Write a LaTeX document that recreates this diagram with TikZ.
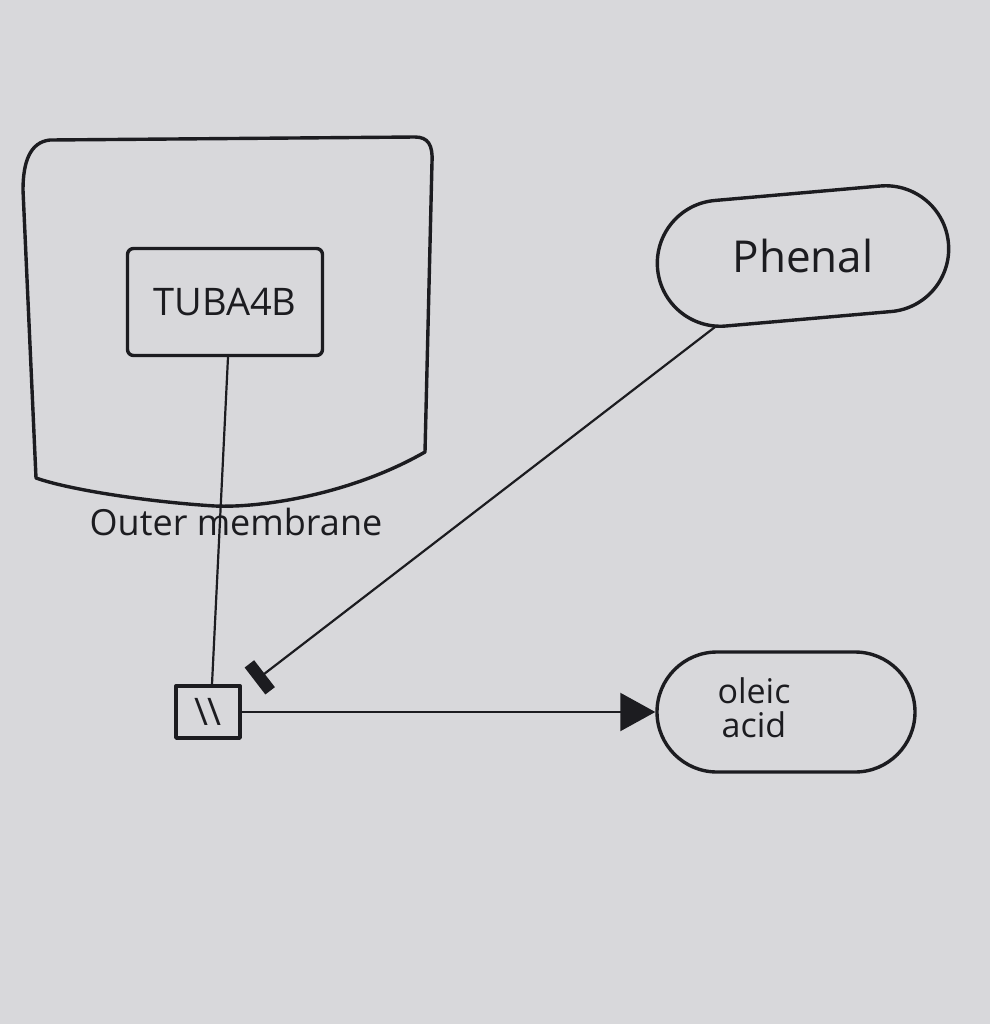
\documentclass[tikz,border=0pt]{standalone}
\usepackage{fontspec}
\setmainfont{Open Sans}
\usetikzlibrary{arrows.meta,shapes.misc}
\definecolor{paper}{RGB}{216,216,219}
\definecolor{ink}{RGB}{28,28,32}
\tikzset{
  pen/.style={draw=ink,line width=1.7pt,line join=round,line cap=round},
  conn/.style={draw=ink,line width=1.1pt},
  lbl/.style={text=ink,font=\fontsize{19}{22}\selectfont},
  blob/.style={pen,rounded rectangle,inner sep=0pt},
}
\begin{document}
\begin{tikzpicture}[x=0.5pt,y=-0.5pt]
\useasboundingbox (0,0) rectangle (990,1024);
\fill[paper] (0,0) rectangle (990,1024);
% outer membrane compartment
\draw[pen] (50,140) -- (415,137) .. controls (428,137) and (433,145) .. (432,162)
  -- (425,452) .. controls (350,495) and (260,508) .. (215,506)
  .. controls (150,502) and (70,490) .. (36,478)
  -- (23,190) .. controls (23,162) and (30,142) .. (50,140) -- cycle;
\node[lbl,font=\fontsize{18}{22}\selectfont] (om) at (236,522) {Outer membrane};
% TUBA4B
\node[pen,rounded corners=3pt,minimum width=97.5pt,minimum height=53.5pt,lbl] (tuba) at (225,302) {TUBA4B};
% small box
\node[pen,minimum width=32pt,minimum height=26pt,inner sep=0pt,lbl,font=\fontsize{19}{20}\selectfont] (sq) at (208,712) {\textbackslash\textbackslash};
% Phenal
\node[blob,minimum width=146pt,minimum height=63pt,rotate=5,lbl,font=\fontsize{22}{26}\selectfont] (ph) at (803,256) {\rotatebox{-5}{Phenal}};
% oleic acid
\node[blob,minimum width=129pt,minimum height=60pt,lbl,font=\fontsize{17}{19}\selectfont,align=center] (oa) at (786,712) {};
\node[lbl,font=\fontsize{17}{19}\selectfont,align=center] (oat) at (754,708) {oleic\\[-2pt]acid};
% connectors
\coordinate (tubaout) at ([xshift=1.5pt]tuba.south);
\coordinate (sqin) at ([xshift=2pt]sq.north);
\draw[conn] (tubaout) -- (sqin);
\coordinate (phout) at (715,327);
\coordinate (bar) at (255,681);
\draw[conn,-{Bar[width=17pt,line width=6pt]}] (phout) -- (bar);
\draw[conn,-{Triangle[length=17.5pt,width=19pt]}] (sq.east) -- (oa.west);
\end{tikzpicture}
\end{document}
